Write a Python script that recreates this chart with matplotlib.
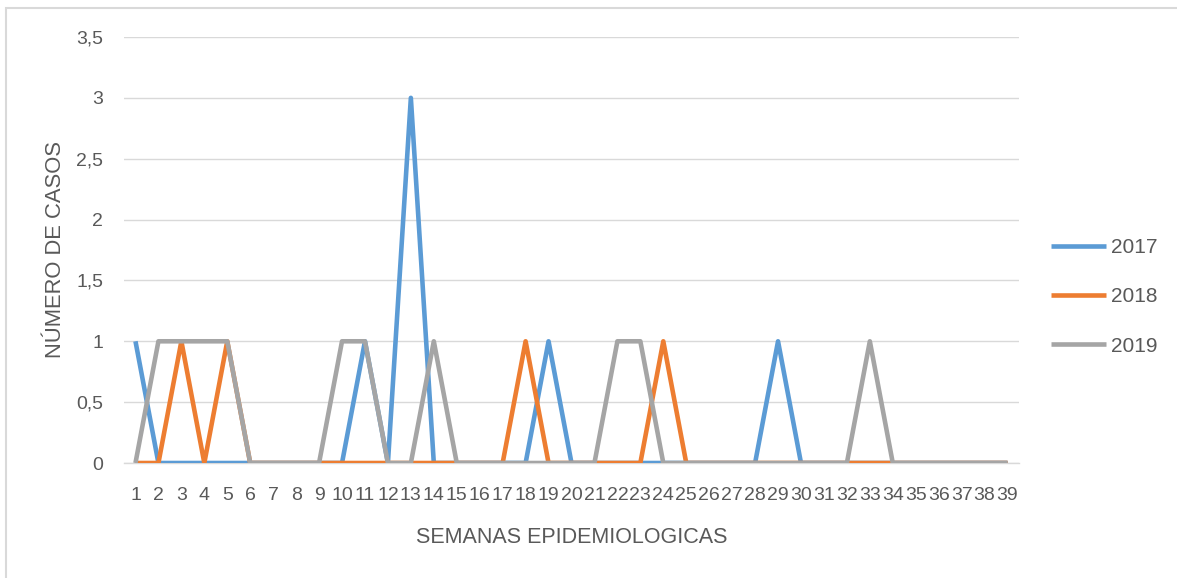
import matplotlib.pyplot as plt
from matplotlib.patches import Rectangle

# Data
semanas = list(range(1, 40))
casos_2017 = [1, 0, 0, 0, 0, 0, 0, 0, 0, 0, 1, 0, 3, 0, 0, 0, 0, 0, 1, 0,
              0, 0, 0, 0, 0, 0, 0, 0, 1, 0, 0, 0, 0, 0, 0, 0, 0, 0, 0]
casos_2018 = [0, 0, 1, 0, 1, 0, 0, 0, 0, 0, 0, 0, 0, 0, 0, 0, 0, 1, 0, 0,
              0, 0, 0, 1, 0, 0, 0, 0, 0, 0, 0, 0, 0, 0, 0, 0, 0, 0, 0]
casos_2019 = [0, 1, 1, 1, 1, 0, 0, 0, 0, 1, 1, 0, 0, 1, 0, 0, 0, 0, 0, 0,
              0, 1, 1, 0, 0, 0, 0, 0, 0, 0, 0, 0, 1, 0, 0, 0, 0, 0, 0]
series = ["2017", "2018", "2019"]
y_ticks = [0, 0.5, 1, 1.5, 2, 2.5, 3, 3.5]

plt.rcParams['font.family'] = ['Liberation Sans', 'DejaVu Sans']
texto = "#595959"
rejilla = "#D9D9D9"

fig = plt.figure(figsize=(11.77, 5.78), dpi=100)
ax = fig.add_axes([124 / 1177, 1 - 463 / 578, 895 / 1177, 426 / 578])

# chart border
fig.patches.append(Rectangle((6 / 1177, -0.05), 1.1, 1 - 8 / 578 + 0.05,
                             transform=fig.transFigure, fill=False,
                             edgecolor=rejilla, linewidth=1.5))

colores = ["#5B9BD5", "#ED7D31", "#A5A5A5"]
for nombre, valores, color in zip(series, [casos_2017, casos_2018, casos_2019], colores):
    ax.plot(semanas, valores, color=color, linewidth=3.3, label=nombre,
            solid_joinstyle='round', solid_capstyle='butt')

ax.set_xlim(0.5, 39.5)
ax.set_ylim(0, 3.5)
ax.set_yticks(y_ticks)
ax.set_yticklabels([f"{v:g}".replace(".", ",") for v in y_ticks])
ax.set_xticks(semanas)
ax.set_xticklabels([str(s) for s in semanas])

ax.grid(axis='y', color=rejilla, linewidth=1.0)
ax.set_axisbelow(True)
for lado in ["top", "right", "left"]:
    ax.spines[lado].set_visible(False)
ax.spines["bottom"].set_color(rejilla)
ax.spines["bottom"].set_linewidth(1.0)
ax.spines["bottom"].set_zorder(0.5)
ax.tick_params(axis='both', length=0, labelsize=14, colors=texto)
ax.tick_params(axis='y', pad=15)
ax.tick_params(axis='x', pad=17)

ax.set_xlabel("SEMANAS EPIDEMIOLOGICAS", fontsize=15.5, color=texto, labelpad=17)
ax.set_ylabel("NÚMERO DE CASOS", fontsize=15.8, color=texto, labelpad=7)

fig.legend(loc='center left', bbox_to_anchor=(1041 / 1177, 1 - 297 / 578),
           frameon=False, fontsize=15, handlelength=2.6, handletextpad=0.25,
           labelspacing=1.45, borderpad=0, labelcolor=texto)

fig.savefig("out.png", dpi=100)
